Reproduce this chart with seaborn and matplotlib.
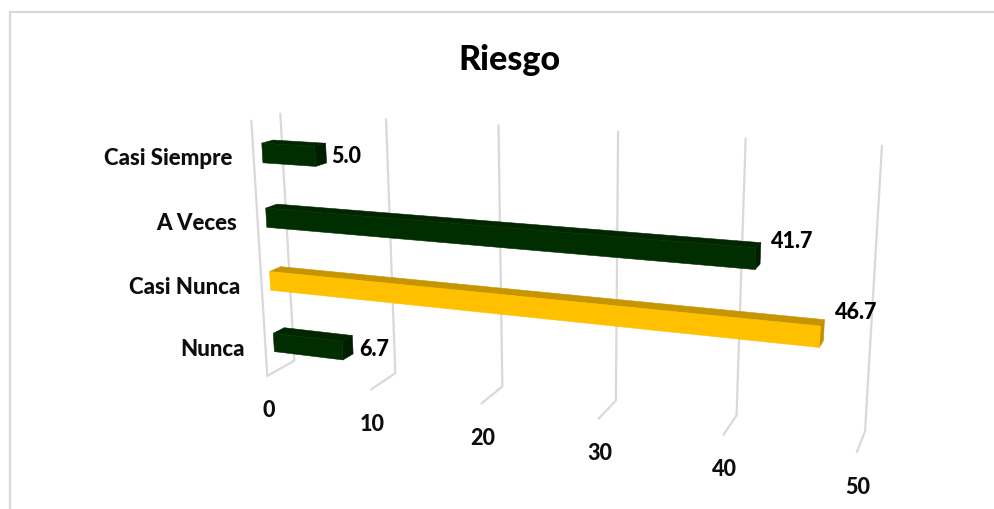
import numpy as np
import matplotlib
matplotlib.use("Agg")
import matplotlib.pyplot as plt
from matplotlib.lines import Line2D
from matplotlib.patches import Polygon
from matplotlib.transforms import Affine2D, Transform
import seaborn as sns

# Chart values
title = "Riesgo"
categories = ["Casi Siempre", "A Veces", "Casi Nunca", "Nunca"]
values = [5.0, 41.7, 46.7, 6.7]
value_labels = ["5.0", "41.7", "46.7", "6.7"]
value_ticks = [0, 10, 20, 30, 40, 50]

# Face colours of each box: front, top, side
GREEN = ("#012E00", "#012600", "#011F00")
GOLD = ("#FFC000", "#C69500", "#BF9000")
faces = [GREEN, GREEN, GOLD, GREEN]

W, H = 995, 510
BAR_DEPTH = (0.30, 0.70)
BAR_WIDTH = 0.30
BAR_DROP = 0.006

# Where the corners of the chart box land on the canvas, per value tick
wall_top = [(280, 115), (386, 120), (498, 127), (618, 132), (746, 140), (882, 147)]
wall_bottom = [(294, 362), (396, 374), (503, 387), (615, 401), (737, 417), (865, 432)]
floor_front = [(267, 377), (371, 391), (482, 404), (598, 420), (723, 436), (857, 453)]
axis_corner = (252, 121)


def fit_camera():
    """Least-squares pinhole camera for (value, height, depth) -> pixels."""
    world, image = [], []
    for k, tick in enumerate(value_ticks):
        world += [(tick, 0, 1), (tick, 1, 1), (tick, 1, 0)]
        image += [wall_top[k], wall_bottom[k], floor_front[k]]
    world.append((0, 0, 0))
    image.append(axis_corner)
    rows, rhs = [], []
    for (a, b, c), (px, py) in zip(world, image):
        a = a / 50
        rows.append([a, b, c, 1, 0, 0, 0, 0, -px * a, -px * b, -px * c])
        rows.append([0, 0, 0, 0, a, b, c, 1, -py * a, -py * b, -py * c])
        rhs += [px, py]
    sol = np.linalg.lstsq(np.array(rows, float), np.array(rhs, float), rcond=None)[0]
    return np.append(sol, 1.0).reshape(3, 4)


CAMERA = fit_camera()


def project(value, height, depth):
    value, height, depth = np.broadcast_arrays(
        np.asarray(value, float), np.asarray(height, float), np.asarray(depth, float)
    )
    world = np.stack([value / 50, height, depth, np.ones_like(value)], axis=-1)
    p = world @ CAMERA.T
    return np.stack([p[..., 0] / p[..., 2], p[..., 1] / p[..., 2]], axis=-1)


def height_of(position):
    """Category position on the bar axis -> fraction of the wall from the top."""
    return (np.asarray(position, float) + 0.5) / len(categories)


pixel = Affine2D().scale(1, -1).translate(0, H)


class DepthPlane(Transform):
    """Maps (value, category position) on a plane of constant depth to display."""

    input_dims = output_dims = 2

    def __init__(self, plane_depth):
        super().__init__()
        self.plane_depth = plane_depth

    def transform_non_affine(self, xy):
        xy = np.asarray(xy, float)
        heights = height_of(xy[:, 1]) + BAR_DROP
        return pixel.transform(project(xy[:, 0], heights, self.plane_depth))


sns.set_theme(style="white")
plt.rcParams["font.family"] = ["Lato", "DejaVu Sans"]

fig = plt.figure(figsize=(W / 100, H / 100), dpi=100, facecolor="white")
ax = fig.add_axes([0, 0, 1, 1])
ax.axis("off")

sns.barplot(
    x=values, y=categories, hue=categories, order=categories, hue_order=categories,
    palette=[f[0] for f in faces], orient="h", width=BAR_WIDTH, legend=False,
    saturation=1, ax=ax, zorder=4,
)

# Outer chart frame (open on the right and bottom)
for xs, ys in (([10, 10], [H, 13]), ([10, W], [13, 13])):
    fig.add_artist(Line2D(xs, ys, color="#d9d9d9", lw=1.6, transform=pixel))

# Value gridlines: up the back wall, then forward across the floor
grid_style = dict(color="#d9d9d9", lw=1.6, solid_joinstyle="miter", transform=pixel,
                  clip_on=False, zorder=1)
for tick in value_ticks:
    path = project([tick] * 3, [0, 1, 1], [1, 1, 0])
    ax.plot(path[:, 0], path[:, 1], **grid_style)
edge = project([0, 0], [0, 1], [0, 0])
ax.plot(edge[:, 0], edge[:, 1], **grid_style)

# Front faces come from seaborn; the top and side faces extend them in depth
front, back = BAR_DEPTH
plane = DepthPlane(front)
for patch, colours in zip(list(ax.patches), faces):
    patch.set_transform(plane)
    patch.set_clip_on(False)
    patch.set_edgecolor(colours[0])
    patch.set_linewidth(0.4)
    x0, x1 = patch.get_x(), patch.get_x() + patch.get_width()
    top = height_of(patch.get_y()) + BAR_DROP
    bottom = height_of(patch.get_y() + patch.get_height()) + BAR_DROP
    top_face = project([x0, x1, x1, x0], top, [front, front, back, back])
    side_face = project(x1, [top, bottom, bottom, top], [front, front, back, back])
    for pts, colour in ((top_face, colours[1]), (side_face, colours[2])):
        ax.add_patch(Polygon(pts, closed=True, facecolor=colour, edgecolor=colour,
                             linewidth=0.4, transform=pixel, clip_on=False, zorder=3))

# Text
fig.text(509 / W, 1 - 60.5 / H, title, ha="center", va="center", fontsize=24.5,
         fontweight=900, color="black")

for i, name in enumerate(categories):
    x, y = project(0, height_of(i), 0)
    ax.text(x - 21, y + 3.5, name, ha="right", va="center", fontsize=16,
            transform=pixel, color="#0d0d0d", fontweight=900)

for k, tick in enumerate(value_ticks):
    x, y = project(tick, 1, 0)
    ax.text(x + 1, y + 34, str(tick), ha="center", va="center", fontsize=15.5,
            transform=pixel, color="#0d0d0d", fontweight=900)

# Data labels sit just past the side of each box, drifting upward with distance
label_shift = [4, -11, -17, 5]
label_gap = [6, 10, 10, 7]
for i, (val, text) in enumerate(zip(values, value_labels)):
    a = project(val, height_of(i - BAR_WIDTH / 2), back)
    b = project(val, height_of(i + BAR_WIDTH / 2), back)
    ax.text(a[0] + label_gap[i], (a[1] + b[1]) / 2 + label_shift[i], text, ha="left",
            va="center", fontsize=15.5, transform=pixel, color="black", fontweight=900)

fig.savefig("out.png", dpi=100)
